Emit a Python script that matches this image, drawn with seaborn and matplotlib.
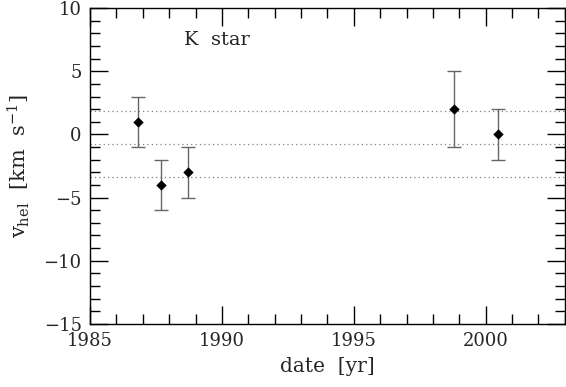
import numpy as np
import pandas as pd
import seaborn as sns
from matplotlib import pyplot as plt
from matplotlib.ticker import MultipleLocator

# radial velocities of the K star
dates = [1986.83, 1987.69, 1988.72, 1998.80, 2000.47]
vhel = [1.0, -4.0, -3.0, 2.0, 0.0]
err = [2.0, 2.0, 2.0, 3.0, 2.0]
levels = [1.83, -0.78, -3.40]  # mean and +/- sigma

df = pd.DataFrame({'date': dates, 'vhel': vhel, 'err': err})

sns.set_style("ticks")
plt.rcParams['font.family'] = ['DejaVu Serif']
plt.rcParams['mathtext.fontset'] = 'dejavuserif'
plt.rcParams['font.size'] = 13

fig, ax = plt.subplots(figsize=(5.66, 3.87), dpi=100)

for lv in levels:
    ax.axhline(lv, color='gray', linestyle=(0, (1, 2.5)), linewidth=0.9, zorder=1)

ax.errorbar(df['date'], df['vhel'], yerr=df['err'], fmt='none',
            ecolor='#666666', elinewidth=1, capsize=5, capthick=1, zorder=2)
sns.scatterplot(data=df, x='date', y='vhel', marker='D', color='black',
                s=28, edgecolor='black', linewidth=0, ax=ax, zorder=3)

ax.set_xlim(1985, 2003)
ax.set_ylim(-15, 10)
ax.xaxis.set_major_locator(MultipleLocator(5))
ax.xaxis.set_minor_locator(MultipleLocator(1))
ax.yaxis.set_major_locator(MultipleLocator(5))
ax.yaxis.set_minor_locator(MultipleLocator(1))
ax.tick_params(which='both', direction='in', top=True, right=True, color='black')
ax.tick_params(which='major', length=13, width=1, pad=6)
ax.tick_params(which='minor', length=7, width=1)
for s in ax.spines.values():
    s.set_linewidth(1)
    s.set_color('black')

ax.set_xlabel('date  [yr]', fontsize=14.5, labelpad=5)
ax.set_ylabel(r'v$_{\rm hel}$  [km  s$^{-1}$]', fontsize=15, labelpad=8)
ax.text(1988.55, 7.1, 'K  star', fontsize=14)

plt.subplots_adjust(left=0.159, right=0.998, top=0.979, bottom=0.163)
plt.savefig('out.png', dpi=100)
